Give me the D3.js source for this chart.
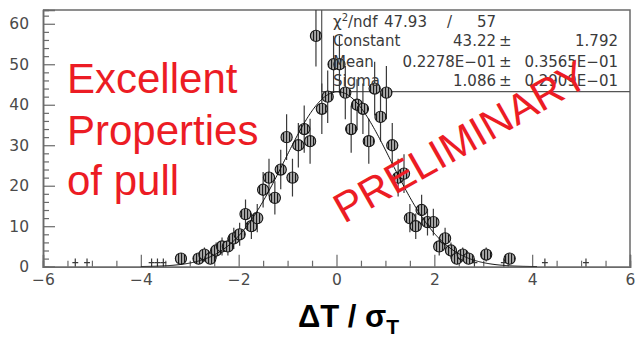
<!DOCTYPE html>
<html>
<head>
<meta charset="utf-8">
<script src="https://cdn.jsdelivr.net/npm/d3@7"></script>
<style>
  html, body { margin: 0; padding: 0; background: #fff; }
  svg { display: block; }
</style>
</head>
<body>
<script>
// ---- data ----
const binCenters = [-3.18, -2.82, -2.70, -2.58, -2.46, -2.34, -2.22, -2.10, -1.98, -1.86,
  -1.74, -1.62, -1.50, -1.38, -1.26, -1.14, -1.02, -0.90, -0.78, -0.66,
  -0.54, -0.42, -0.30, -0.18, -0.06, 0.06, 0.18, 0.30, 0.42, 0.54,
  0.66, 0.78, 0.90, 1.02, 1.14, 1.26, 1.38, 1.50, 1.62, 1.74,
  1.86, 1.98, 2.10, 2.22, 2.34, 2.46, 2.58, 2.70, 3.06, 3.54];
const counts = [2, 2, 3, 2, 4, 5, 5, 7, 8, 13,
  10, 12, 19, 22, 17, 24, 32, 22, 30, 34,
  31, 57, 39, 42, 50, 50, 43, 34, 40, 39,
  31, 44, 37, 43, 30, 22, 23, 12, 10, 14,
  11, 11, 5, 7, 4, 2, 3, 2, 3, 2];
const singleBins = [-5.34, -5.10, -3.78, -3.66, -3.54, 2.82, 3.42, 4.26, 5.10];
const singleCounts = [1, 1, 1, 1, 1, 1, 1, 1, 1];
const binWidth = 0.12;
const xTickLabels = [-6, -4, -2, 0, 2, 4, 6];
const yTickLabels = [0, 10, 20, 30, 40, 50, 60];
const fitParams = [43.22, 0.02278, 1.086]; // Constant, Mean, Sigma
const fitRange = [-4.0, 4.1];
const statsRows = [
  ["χ2/ndf", "47.93", "/", "57"],
  ["Constant", "43.22", "±", "1.792"],
  ["Mean", "0.2278E−01", "±", "0.3565E−01"],
  ["Sigma", "1.086", "±", "0.2909E−01"]
];
const redLines = ["Excellent", "Properties", "of pull"];

// ---- layout ----
const W = 635, H = 339;
const L = 43, R = 630, T = 10, B = 266.7;
const x = d3.scaleLinear().domain([-6, 6]).range([L, R]);
const y = d3.scaleLinear().domain([0, 63.4]).range([B, T]);

const svg = d3.select("body").append("svg").attr("width", W).attr("height", H);
const defs = svg.append("defs");
const pat = defs.append("pattern").attr("id", "hatch").attr("patternUnits", "userSpaceOnUse")
  .attr("width", 3).attr("height", 3);
pat.append("rect").attr("width", 3).attr("height", 3).attr("fill", "#a8a8a8");
pat.append("rect").attr("x", 1).attr("width", 1.1).attr("height", 3).attr("fill", "#1a1a1a");
defs.append("clipPath").attr("id", "plotclip").append("rect")
  .attr("x", L).attr("y", T).attr("width", R - L).attr("height", B - T);

const axisColor = "#6a6a6a";
const textColor = "#4a4a4a";

// frame
svg.append("path").attr("d", `M${L},${T}H${R}V${B}`).attr("fill", "none")
  .attr("stroke", axisColor).attr("stroke-width", 1.5);

// stats box
svg.append("path").attr("d", `M321.7,${T}V91.7H${R}`).attr("fill", "none")
  .attr("stroke", "#555").attr("stroke-width", 1.2);

// axes with D3
const xMinor = d3.range(-6, 6.001, 0.5).filter(v => Math.abs(v % 2) > 1e-6);
const yMinor = d3.range(0, 63, 2).filter(v => v % 10 !== 0);

const xAxisMajor = d3.axisBottom(x).tickValues(xTickLabels).tickSize(-12).tickPadding(18)
  .tickFormat(d => d < 0 ? "−" + Math.abs(d) : d);
const gx = svg.append("g").attr("transform", `translate(0,${B})`).call(xAxisMajor);
const gxm = svg.append("g").attr("transform", `translate(0,${B})`)
  .call(d3.axisBottom(x).tickValues(xMinor).tickSize(-6).tickFormat(""));
const yAxisMajor = d3.axisLeft(y).tickValues(yTickLabels).tickSize(-12).tickPadding(14);
const gy = svg.append("g").attr("transform", `translate(${L},0)`).call(yAxisMajor);
const gym = svg.append("g").attr("transform", `translate(${L},0)`)
  .call(d3.axisLeft(y).tickValues(yMinor).tickSize(-6).tickFormat(""));
[gx, gxm, gy, gym].forEach(g => {
  g.select(".domain").attr("stroke", axisColor).attr("stroke-width", 1.5);
  g.selectAll(".tick line").attr("stroke", axisColor).attr("stroke-width", 1.2);
  g.selectAll(".tick text").attr("fill", textColor)
    .style("font-family", "'DejaVu Sans', sans-serif").style("font-size", "15.5px");
});
gx.selectAll(".tick text").attr("dy", "0.35em").attr("y", 13);

// data
const pts = binCenters.map((c, i) => ({ c, n: counts[i] }));
const singles = singleBins.map((c, i) => ({ c, n: singleCounts[i] }));
const all = pts.concat(singles);
const plot = svg.append("g").attr("clip-path", "url(#plotclip)");

plot.selectAll("line.ev").data(all).enter().append("line").attr("class", "ev")
  .attr("x1", d => x(d.c)).attr("x2", d => x(d.c))
  .attr("y1", d => y(d.n + Math.sqrt(d.n))).attr("y2", d => y(Math.max(0, d.n - Math.sqrt(d.n))))
  .attr("stroke", "#3a3a3a").attr("stroke-width", 1.2);
plot.selectAll("line.eh").data(all).enter().append("line").attr("class", "eh")
  .attr("x1", d => x(d.c - binWidth / 2)).attr("x2", d => x(d.c + binWidth / 2))
  .attr("y1", d => y(d.n)).attr("y2", d => y(d.n))
  .attr("stroke", "#3a3a3a").attr("stroke-width", 1.2);

plot.selectAll("circle.m").data(pts).enter().append("circle").attr("class", "m")
  .attr("cx", d => x(d.c)).attr("cy", d => y(d.n)).attr("r", 5.6)
  .attr("fill", "url(#hatch)").attr("stroke", "#1a1a1a").attr("stroke-width", 1.1);

// fit curve (from the displayed fit parameters)
const [A, mu, sg] = fitParams;
const fx = d3.range(fitRange[0], fitRange[1] + 1e-9, 0.02);
const line = d3.line().x(v => x(v)).y(v => y(A * Math.exp(-0.5 * ((v - mu) / sg) ** 2)));
plot.append("path").datum(fx).attr("d", line).attr("fill", "none")
  .attr("stroke", "#111").attr("stroke-width", 1);

// stats text
const st = svg.append("g").style("font-family", "'DejaVu Sans', sans-serif")
  .style("font-size", "15px").attr("fill", "#3a3a3a");
const rowY = [27, 46, 66.5, 86];
statsRows.forEach((r, i) => {
  if (i === 0) {
    const t = st.append("text").attr("x", 333).attr("y", rowY[i]);
    t.append("tspan").text("χ");
    t.append("tspan").attr("dy", -6).style("font-size", "10px").text("2");
    t.append("tspan").attr("dy", 6).text("/ndf");
    st.append("text").attr("x", 384).attr("y", rowY[i]).text(r[1]);
    st.append("text").attr("x", 447).attr("y", rowY[i]).text(r[2]);
    st.append("text").attr("x", 477).attr("y", rowY[i]).text(r[3]);
  } else {
    st.append("text").attr("x", 333).attr("y", rowY[i]).text(r[0]);
    st.append("text").attr("x", 496).attr("y", rowY[i]).attr("text-anchor", "end").text(r[1]);
    st.append("text").attr("x", 499).attr("y", rowY[i]).text(r[2]);
    st.append("text").attr("x", 618).attr("y", rowY[i]).attr("text-anchor", "end").text(r[3]);
  }
});

// red annotations
const red = "#ec1c24";
const rg = svg.append("g").style("font-family", "'Liberation Sans', Arial, sans-serif")
  .attr("fill", red);
const redY = [93, 145, 195];
redLines.forEach((s, i) => {
  rg.append("text").attr("x", 67).attr("y", redY[i]).style("font-size", "42px").text(s);
});
rg.append("text").attr("transform", "translate(344,224) rotate(-29.5)")
  .style("font-size", "42px").text("PRELIMINARY");

// x axis title
const xt = svg.append("text").attr("x", 298).attr("y", 327)
  .style("font-family", "'Liberation Sans', Arial, sans-serif").style("font-weight", "bold")
  .style("font-size", "31px").attr("fill", "#000");
xt.append("tspan").text("ΔT / σ");
xt.append("tspan").attr("dy", 7).style("font-size", "21px").text("T");
</script>
</body>
</html>
